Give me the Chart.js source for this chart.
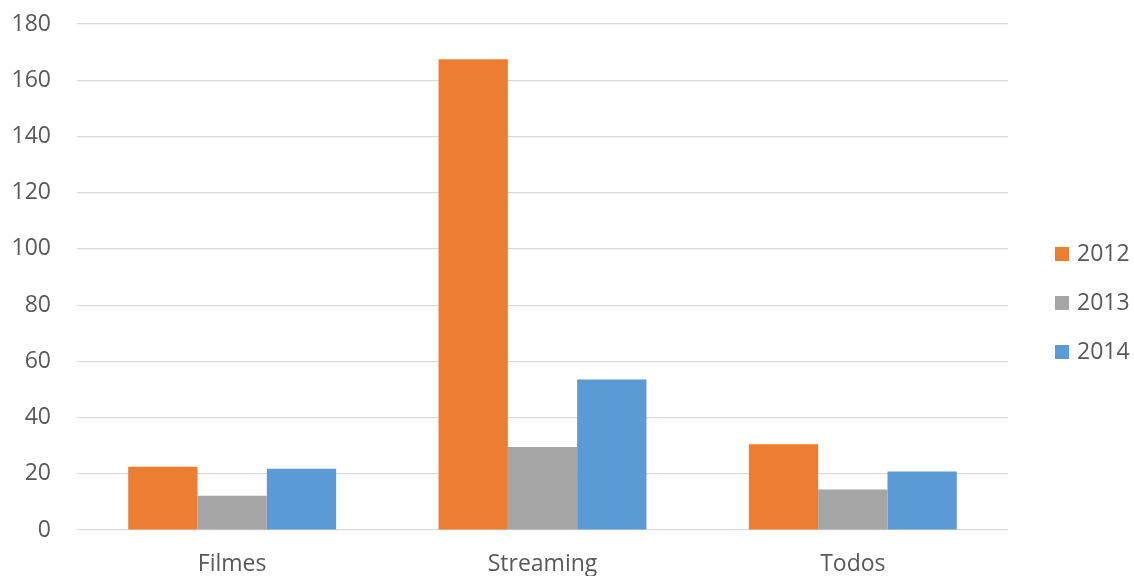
<!DOCTYPE html>
<html>
<head>
<meta charset="utf-8">
<script src="https://cdn.jsdelivr.net/npm/chart.js@4"></script>
<style>
  html, body { margin: 0; padding: 0; background: #ffffff; }
  #wrap { width: 1134px; height: 576px; position: relative; }
</style>
</head>
<body>
<div id="wrap"><canvas id="chart" width="1134" height="576"></canvas></div>
<script>
// Categories and yearly series
const categories = ["Filmes", "Streaming", "Todos"];
const years = ["2012", "2013", "2014"];
const values2012 = [22.5, 167.5, 30.5];
const values2013 = [12.2, 29.5, 14.4];
const values2014 = [21.8, 53.5, 20.8];
const yTicks = [0, 20, 40, 60, 80, 100, 120, 140, 160, 180];

const colors = ["#ED7D31", "#A5A5A5", "#5B9BD5"];
const textColor = "#595959";
const fontFamily = "'Open Sans', 'Noto Sans', sans-serif";
const fontSize = 23;

// Legend drawn to the right of the plot area
const sideLegend = {
  id: "sideLegend",
  afterDraw(chart) {
    const ctx = chart.ctx;
    const area = chart.chartArea;
    const x = area.right + 47;
    const rowGap = 49;
    const firstY = 254;
    ctx.save();
    ctx.font = fontSize + "px " + fontFamily;
    ctx.textBaseline = "middle";
    ctx.textAlign = "left";
    chart.data.datasets.forEach((ds, i) => {
      const cy = firstY + i * rowGap;
      ctx.fillStyle = ds.backgroundColor;
      ctx.fillRect(x, cy - 7, 14, 14);
      ctx.fillStyle = textColor;
      ctx.fillText(ds.label, x + 22, cy);
    });
    ctx.restore();
  }
};

const seriesValues = [values2012, values2013, values2014];

new Chart(document.getElementById("chart"), {
  type: "bar",
  data: {
    labels: categories,
    datasets: years.map((y, i) => ({
      label: y,
      data: seriesValues[i],
      backgroundColor: colors[i],
      borderWidth: 0,
      barPercentage: 1.0,
      categoryPercentage: 0.67
    }))
  },
  options: {
    responsive: false,
    animation: false,
    layout: { padding: { top: 24, right: 126, left: 0, bottom: 0 } },
    plugins: {
      legend: { display: false },
      tooltip: { enabled: false }
    },
    scales: {
      x: {
        grid: { display: false, drawTicks: false },
        border: { display: false },
        ticks: {
          color: textColor,
          font: { family: fontFamily, size: fontSize },
          padding: 21
        },
        afterFit(scale) {
          scale.height = 46;
          scale.paddingLeft = 0;
          scale.paddingRight = 0;
        }
      },
      y: {
        min: 0,
        max: 180,
        afterBuildTicks(scale) {
          scale.ticks = yTicks.map(v => ({ value: v }));
        },
        grid: { color: "#d9d9d9", lineWidth: 1.2, drawTicks: false },
        border: { display: false },
        ticks: {
          color: textColor,
          font: { family: fontFamily, size: fontSize },
          padding: 26
        },
        afterFit(scale) {
          scale.width = 77;
          scale.paddingTop = 0;
          scale.paddingBottom = 0;
        }
      }
    }
  },
  plugins: [sideLegend]
});
</script>
</body>
</html>
